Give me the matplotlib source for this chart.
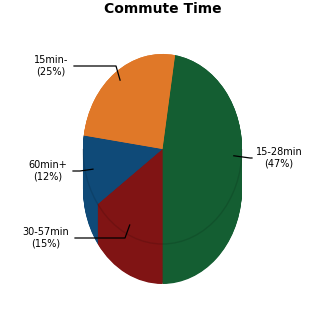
import numpy as np
import matplotlib
matplotlib.use("Agg")
import matplotlib.pyplot as plt
from matplotlib.patches import Arc

# data (clockwise from the top)
labels = ["15-28min", "30-57min", "60min+", "15min-"]
percents = [47, 15, 12, 25]
colors = ["#145e32", "#801414", "#0f4a78", "#e07828"]

# label text centres in pixels (x, y from top), connector elbows and line ends
text_px = [(279, 158), (46, 238), (48, 171), (51, 66)]
elbow_px = [(250, 158), (125, 238), (80, 171), (116, 66)]
end_x_px = [252, 75, 73, 74]

W = H = 325
rx, ry = 79.5, 95.0          # pixel radii of the top ellipse
cx, cy = 162.5, 149.0        # pixel centre
depth = 40 / ry              # extrusion in data units


def px(x, y):
    return (x - cx) / rx, (cy - y) / ry


fig = plt.figure(figsize=(3.25, 3.25), dpi=100)
ax = fig.add_axes([0, 0, 1, 1])

total = float(sum(percents))
start = -90 + 360 * percents[0] / total

# side walls: stack the pie downwards, then the top face
for dz in np.linspace(-depth, 0, 60):
    ax.pie(percents, colors=colors, startangle=start, counterclock=False,
           center=(0, dz), radius=1, wedgeprops=dict(linewidth=0))
ax.pie(percents, colors=colors, startangle=start, counterclock=False,
       center=(0, 0), radius=1, wedgeprops=dict(linewidth=0))
ax.add_patch(Arc((0, 0), 2, 2, theta1=180, theta2=360,
                 color="black", alpha=0.12, lw=1))

ax.set_aspect("auto")
ax.set_xlim(-cx / rx, (W - cx) / rx)
ax.set_ylim(-(H - cy) / ry, cy / ry)
ax.axis("off")

# labels with connector lines
angle = start
for lab, p, tp, ep, lx in zip(labels, percents, text_px, elbow_px, end_x_px):
    span = 360 * p / total
    mid = np.radians(angle - span / 2)
    angle -= span
    ax_, ay_ = 0.9 * np.cos(mid), 0.9 * np.sin(mid)
    ex, ey = px(*ep)
    lxd = px(lx, 0)[0]
    tx, ty = px(*tp)
    ax.plot([ax_, ex, lxd], [ay_, ey, ey], color="black", lw=0.9)
    ax.text(tx, ty, f"{lab}\n({p}%)", ha="center", va="center",
            fontsize=7, linespacing=1.15)

fig.text(0.5, 1 - 9 / H, "Commute Time", ha="center", va="center",
         fontsize=10, fontweight="bold")

fig.savefig("out.png", dpi=100)
